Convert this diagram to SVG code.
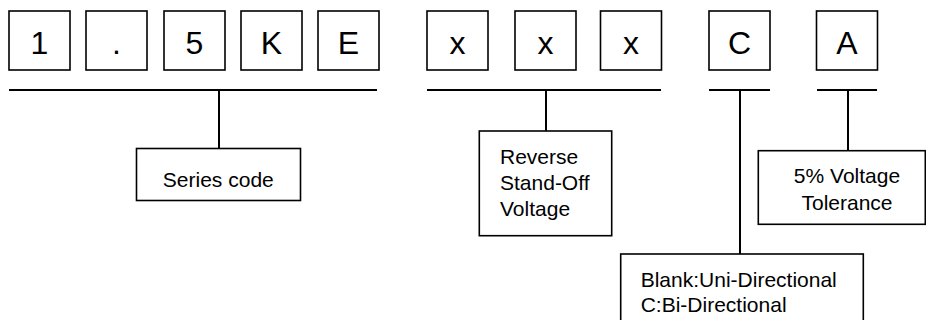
<svg xmlns="http://www.w3.org/2000/svg" width="926" height="320" viewBox="0 0 926 320">
<style>
.box{fill:#fff;stroke:#000;stroke-width:1.6}
.ch{font-family:"Liberation Sans",Arial,sans-serif;font-size:32px;text-anchor:middle;fill:#000}
.lb{font-family:"Liberation Sans",Arial,sans-serif;font-size:21px;fill:#000}
.c{text-anchor:middle}
.ln{stroke:#000;stroke-width:2;fill:none}
</style>
<rect width="926" height="320" fill="#fff"/>
<g id="code-chars">
<g id="ch1"><rect class="box" x="9" y="11" width="61" height="59"/><text class="ch" x="39.5" y="54">1</text></g>
<g id="ch2"><rect class="box" x="86" y="11" width="61" height="59"/><text class="ch" x="116.5" y="54">.</text></g>
<g id="ch3"><rect class="box" x="164" y="11" width="61" height="59"/><text class="ch" x="194.5" y="54">5</text></g>
<g id="ch4"><rect class="box" x="241" y="11" width="61" height="59"/><text class="ch" x="271.5" y="54">K</text></g>
<g id="ch5"><rect class="box" x="318" y="11" width="61" height="59"/><text class="ch" x="348.5" y="54">E</text></g>
<g id="ch6"><rect class="box" x="427" y="11" width="61" height="59"/><text class="ch" x="457.5" y="54">x</text></g>
<g id="ch7"><rect class="box" x="515" y="11" width="61" height="59"/><text class="ch" x="545.5" y="54">x</text></g>
<g id="ch8"><rect class="box" x="600.5" y="11" width="61" height="59"/><text class="ch" x="631" y="54">x</text></g>
<g id="ch9"><rect class="box" x="709" y="11" width="61" height="59"/><text class="ch" x="739.5" y="54">C</text></g>
<g id="ch10"><rect class="box" x="816.5" y="11" width="61" height="59"/><text class="ch" x="847" y="54">A</text></g>
</g>
<g id="connectors">
<path class="ln" d="M9 90H377M219 90V148.5"/>
<path class="ln" d="M427 90H661M546 90V131"/>
<path class="ln" d="M709 90H770M740 90V254"/>
<path class="ln" d="M817 90H877M848 90V150.7"/>
</g>
<g id="series"><rect class="box" x="136.5" y="148.5" width="164" height="52"/><text class="lb c" x="218.3" y="186.7">Series code</text></g>
<g id="voltage"><rect class="box" x="479.3" y="131" width="132.4" height="104.7"/>
<text class="lb" x="500" y="164">Reverse</text><text class="lb" x="500" y="190">Stand-Off</text><text class="lb" x="500" y="215.7">Voltage</text></g>
<g id="tolerance"><rect class="box" x="758.3" y="150.7" width="167" height="73.6"/>
<text class="lb c" x="847" y="183.3">5% Voltage</text><text class="lb c" x="847" y="210">Tolerance</text></g>
<g id="direction"><rect class="box" x="620.7" y="254" width="242.6" height="80"/>
<text class="lb" x="640.7" y="286.7">Blank:Uni-Directional</text><text class="lb" x="640.7" y="312.3">C:Bi-Directional</text></g>
</svg>
